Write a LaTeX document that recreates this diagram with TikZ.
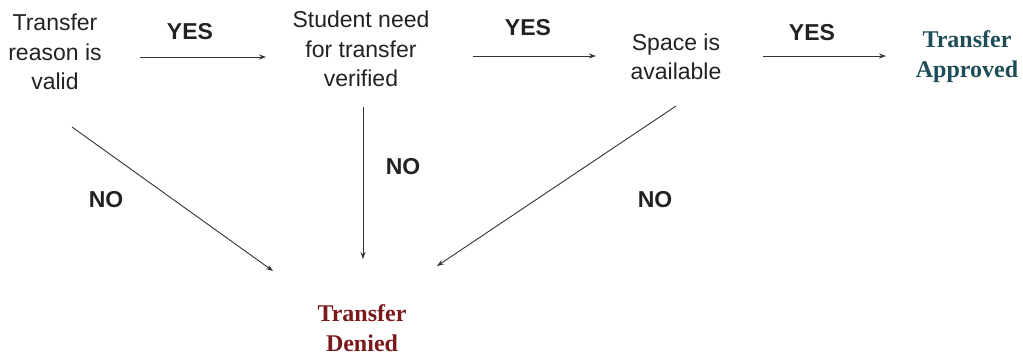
\documentclass[tikz,border=0pt]{standalone}
\usepackage{fontspec}
\setmainfont{Liberation Sans}
\newfontfamily\serifbold{Liberation Serif}
\usetikzlibrary{arrows.meta}
\definecolor{approvedc}{HTML}{1E4D58}
\definecolor{deniedc}{HTML}{7A1A1C}
\definecolor{arrowc}{HTML}{333333}
\definecolor{textc}{HTML}{222222}
\tikzset{
  x=1pt, y=-1pt,
  stepbox/.style={align=center, text=textc, font=\fontsize{23}{29.5}\selectfont, inner sep=0pt},
  outcome/.style={align=center, font=\serifbold\bfseries\fontsize{24}{30}\selectfont, inner sep=0pt},
  lbl/.style={text=textc, font=\bfseries\fontsize{23}{27}\selectfont, inner sep=0pt},
  conn/.style={-{Stealth[length=7pt,width=5pt]}, line width=0.9pt, draw=arrowc},
}
\begin{document}
\begin{tikzpicture}
\useasboundingbox (0,0) rectangle (1023,357);
\node[stepbox] (reason) at (55,52) {Transfer\\reason is\\valid};
\node[stepbox] (need) at (361,49) {Student need\\for transfer\\verified};
\node[stepbox] (space) at (676,57) {Space is\\available};
\node[outcome, text=approvedc] (approved) at (967,57) {Transfer\\Approved};
\node[outcome, text=deniedc] (denied) at (362,328) {Transfer\\Denied};

\node[lbl] (yes1) at (190,32) {YES};
\node[lbl] (yes2) at (528,28) {YES};
\node[lbl] (yes3) at (812,33) {YES};
\node[lbl] (no1) at (106,200) {NO};
\node[lbl] (no2) at (403,167) {NO};
\node[lbl] (no3) at (655,200) {NO};

\coordinate (a1s) at (140,57); \coordinate (a1e) at (266,57);
\coordinate (a2s) at (473,56); \coordinate (a2e) at (596,56);
\coordinate (a3s) at (763,56); \coordinate (a3e) at (886,56);
\coordinate (d1s) at (72,127); \coordinate (d1e) at (273,271);
\coordinate (d2s) at (363,107); \coordinate (d2e) at (363,259);
\coordinate (d3s) at (676,106); \coordinate (d3e) at (437,266);

\draw[conn] (a1s) -- (a1e);
\draw[conn] (a2s) -- (a2e);
\draw[conn] (a3s) -- (a3e);
\draw[conn] (d1s) -- (d1e);
\draw[conn] (d2s) -- (d2e);
\draw[conn] (d3s) -- (d3e);
\end{tikzpicture}
\end{document}
